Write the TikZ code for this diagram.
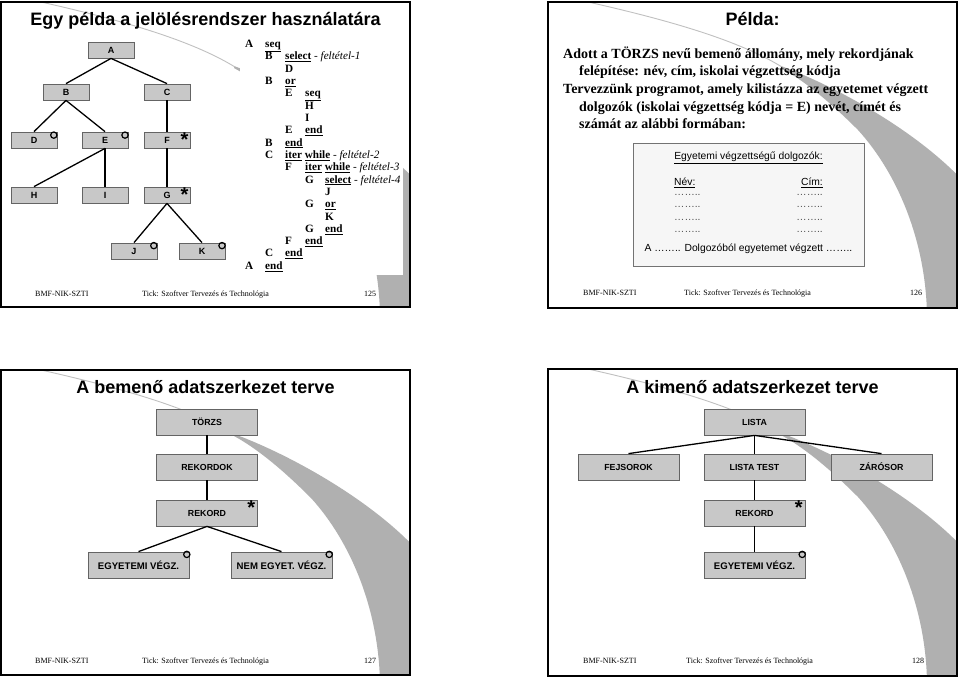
\documentclass[tikz,border=0pt]{standalone}
\usepackage{fontspec}
\usetikzlibrary{calc}
\setmainfont{Liberation Serif}
\setsansfont{Liberation Sans}
\definecolor{swgray}{RGB}{176,176,176}
\definecolor{swline}{RGB}{192,192,192}
\definecolor{boxfill}{RGB}{200,200,200}
\definecolor{boxline}{RGB}{100,100,100}
\definecolor{tblfill}{RGB}{246,246,246}
\definecolor{tblline}{RGB}{115,115,115}
\newcommand\kw[1]{\underline{#1}}
\newcommand\cnd[1]{\textit{\mdseries #1}}
\newcommand\cl[1]{\makebox[20pt][l]{#1}}
\newcommand\myswoosh{%
  \fill[swgray] (233,64) .. controls (290,85) and (370,130) .. (416,180)
    -- (440,180) -- (440,330) -- (379,330) -- (379,314) .. controls (378,240) and (350,172) .. (310,128)
    .. controls (280,98) and (255,78) .. (233,66) -- cycle;
  \draw[swline, line width=0.9pt] (40,0) .. controls (120,18) and (190,38) .. (234,65);
}
\begin{document}
\begin{tikzpicture}[x=1pt,y=-1pt,
  frame/.style={draw=black, line width=1.6pt},
  tbox/.style={draw=boxline, fill=boxfill, line width=0.8pt, minimum width=46pt, minimum height=16pt, inner sep=0pt, font=\sffamily\bfseries\fontsize{9}{10}\selectfont},
  bbox/.style={tbox, minimum width=101pt, minimum height=26pt, font=\sffamily\bfseries\fontsize{8.8}{10}\selectfont},
  lbox/.style={bbox, font=\sffamily\bfseries\fontsize{9.6}{11}\selectfont},
  conn/.style={draw=black, line width=1.3pt},
  ring/.style={circle, draw=black, line width=1.2pt, minimum size=6.3pt, inner sep=0pt},
  astx/.style={anchor=north east, inner sep=0pt, font=\sffamily\bfseries\fontsize{20}{20}\selectfont},
  pc/.style={anchor=base west, inner sep=0pt, font=\bfseries\fontsize{11.2}{12}\selectfont},
  foot/.style={anchor=base west, inner sep=0pt, font=\fontsize{8}{9}\selectfont},
  ttl/.style={anchor=base, inner sep=0pt, font=\sffamily\bfseries\fontsize{18}{20}\selectfont},
  body/.style={anchor=base west, inner sep=0pt, font=\bfseries\fontsize{14}{16}\selectfont},
  tt/.style={inner sep=0pt, font=\sffamily\fontsize{10.3}{12}\selectfont}
]
\fill[white] (0,0) rectangle (960,679);
\useasboundingbox (0,0) rectangle (960,679);

% ---------- swooshes ----------
\begin{scope}\clip (1,2) rectangle (410,307);
  \begin{scope}[shift={(1,2)}]\myswoosh\end{scope}
\end{scope}
\fill[white] (240,30) rectangle (403,275);
\begin{scope}\clip (548,2) rectangle (957,308);
  \begin{scope}[shift={(548,2)}]\myswoosh\end{scope}
\end{scope}
\begin{scope}\clip (1,370) rectangle (410,675);
  \begin{scope}[shift={(1,370)}]\myswoosh\end{scope}
\end{scope}
\begin{scope}\clip (548,369) rectangle (957,676);
  \begin{scope}[shift={(548,369)}]\myswoosh\end{scope}
\end{scope}

% ---------- slide 1 ----------
\node[ttl] (t1) at (205.5,26) {Egy példa a jelölésrendszer használatára};
\node[tbox] (A) at (111,50) {A};
\node[tbox] (B) at (66,92) {B};
\node[tbox] (C) at (167,92) {C};
\node[tbox] (D) at (34,140) {D};
\node[tbox] (E) at (105,140) {E};
\node[tbox] (F) at (167,140) {F};
\node[tbox] (H) at (34,195) {H};
\node[tbox] (I) at (105,195) {I};
\node[tbox] (G) at (167,195) {G};
\node[tbox] (J) at (134,251) {J};
\node[tbox] (K) at (202,251) {K};
\draw[conn] (A.south) -- (B.north);
\draw[conn] (A.south) -- (C.north);
\draw[conn] (B.south) -- (D.north);
\draw[conn] (B.south) -- (E.north);
\draw[conn] (C.south) -- (F.north);
\draw[conn] (E.south) -- (H.north);
\draw[conn] (E.south) -- (I.north);
\draw[conn] (F.south) -- (G.north);
\draw[conn] (G.south) -- (J.north);
\draw[conn] (G.south) -- (K.north);
\node[ring] (rD) at ($(D.north east)+(-3.6,3.5)$) {};
\node[ring] (rE) at ($(E.north east)+(-3.4,3.5)$) {};
\node[ring] (rJ) at ($(J.north east)+(-3.6,3)$) {};
\node[ring] (rK) at ($(K.north east)+(-3.4,3)$) {};
\node[astx] (sF) at ($(F.north east)+(-1.8,1.2)$) {*};
\node[astx] (sG) at ($(G.north east)+(-1.8,1.2)$) {*};

\node[pc] (p1)  at (245,47.5)  {\cl{A}\kw{seq}};
\node[pc] (p2)  at (265,59.8)  {\cl{B}\kw{select} \cnd{- feltétel-1}};
\node[pc] (p3)  at (285,72.1)  {D};
\node[pc] (p4)  at (265,84.5)  {\cl{B}\kw{or}};
\node[pc] (p5)  at (285,96.8)  {\cl{E}\kw{seq}};
\node[pc] (p6)  at (305,109.1) {H};
\node[pc] (p7)  at (305,121.4) {I};
\node[pc] (p8)  at (285,133.7) {\cl{E}\kw{end}};
\node[pc] (p9)  at (265,146.1) {\cl{B}\kw{end}};
\node[pc] (p10) at (265,158.4) {\cl{C}\kw{iter} \kw{while} \cnd{- feltétel-2}};
\node[pc] (p11) at (285,170.7) {\cl{F}\kw{iter} \kw{while} \cnd{- feltétel-3}};
\node[pc] (p12) at (305,183.0) {\cl{G}\kw{select} \cnd{- feltétel-4}};
\node[pc] (p13) at (325,195.3) {J};
\node[pc] (p14) at (305,207.7) {\cl{G}\kw{or}};
\node[pc] (p15) at (325,220.0) {K};
\node[pc] (p16) at (305,232.3) {\cl{G}\kw{end}};
\node[pc] (p17) at (285,244.6) {\cl{F}\kw{end}};
\node[pc] (p18) at (265,256.9) {\cl{C}\kw{end}};
\node[pc] (p19) at (245,269.3) {\cl{A}\kw{end}};

\node[foot] (f1a) at (35,296) {BMF-NIK-SZTI};
\node[foot] (f1b) at (142,296) {Tick: Szoftver Tervezés és Technológia};
\node[foot] (f1c) at (364,296) {125};

% ---------- slide 2 ----------
\node[ttl] (t2) at (752.5,26) {Példa:};
\node[body] (b1) at (563,58.3) {Adott a TÖRZS nevű bemenő állomány, mely rekordjának};
\node[body] (b2) at (579,76) {felépítése: név, cím, iskolai végzettség kódja};
\node[body] (b3) at (563,94) {Tervezzünk programot, amely kilistázza az egyetemet végzett};
\node[body] (b4) at (579,111.7) {dolgozók (iskolai végzettség kódja = E) nevét, címét és};
\node[body] (b5) at (579,129) {számát az alábbi formában:};
\node[draw=tblline, fill=tblfill, line width=0.8pt, minimum width=231pt, minimum height=123pt, inner sep=0pt] (tbl) at (748.5,204.5) {};
\node[tt, anchor=base] (tg1) at (748.5,160) {\underline{Egyetemi végzettségű dolgozók:}};
\node[tt, anchor=base west] (tn) at (674,185.7) {\underline{Név:}};
\node[tt, anchor=base east] (tc) at (823,185.7) {\underline{Cím:}};
\node[tt, anchor=base west, text=black!70] (d1) at (674,195) {……..};
\node[tt, anchor=base west, text=black!70] (d2) at (674,207.7) {……..};
\node[tt, anchor=base west, text=black!70] (d3) at (674,220) {……..};
\node[tt, anchor=base west, text=black!70] (d4) at (674,232) {……..};
\node[tt, anchor=base east, text=black!70] (e1) at (823,195) {……..};
\node[tt, anchor=base east, text=black!70] (e2) at (823,207.7) {……..};
\node[tt, anchor=base east, text=black!70] (e3) at (823,220) {……..};
\node[tt, anchor=base east, text=black!70] (e4) at (823,232) {……..};
\node[tt, anchor=base] (tl) at (748.5,251.7) {A …….. Dolgozóból egyetemet végzett ……..};
\node[foot] (f2a) at (583,295.5) {BMF-NIK-SZTI};
\node[foot] (f2b) at (684,295.5) {Tick: Szoftver Tervezés és Technológia};
\node[foot] (f2c) at (910,295.5) {126};

% ---------- slide 3 ----------
\node[ttl] (t3) at (205.5,393) {A bemenő adatszerkezet terve};
\node[bbox] (torzs) at (207,422) {TÖRZS};
\node[bbox] (reks) at (207,467) {REKORDOK};
\node[bbox] (rek) at (207,513) {REKORD};
\node[lbox] (egy) at (138.5,565) {EGYETEMI VÉGZ.};
\node[lbox] (nem) at (281.5,565) {NEM EGYET. VÉGZ.};
\draw[conn] (torzs.south) -- (reks.north);
\draw[conn] (reks.south) -- (rek.north);
\draw[conn] (rek.south) -- (egy.north);
\draw[conn] (rek.south) -- (nem.north);
\node[astx] (sR) at ($(rek.north east)+(-2.6,1)$) {*};
\node[ring] (rEg) at ($(egy.north east)+(-2.6,2.8)$) {};
\node[ring] (rNe) at ($(nem.north east)+(-3.2,2.8)$) {};
\node[foot] (f3a) at (35,663.3) {BMF-NIK-SZTI};
\node[foot] (f3b) at (142,663.3) {Tick: Szoftver Tervezés és Technológia};
\node[foot] (f3c) at (364,663.3) {127};

% ---------- slide 4 ----------
\node[ttl] (t4) at (752.5,393) {A kimenő adatszerkezet terve};
\node[bbox] (lista) at (754.5,422) {LISTA};
\node[bbox] (fej) at (628.5,467) {FEJSOROK};
\node[bbox] (ltest) at (754.5,467) {LISTA TEST};
\node[bbox] (zar) at (881.5,467) {ZÁRÓSOR};
\node[bbox] (rek2) at (754.5,513) {REKORD};
\node[lbox] (egy2) at (754.5,565) {EGYETEMI VÉGZ.};
\draw[conn] (lista.south) -- (fej.north);
\draw[conn] (lista.south) -- (ltest.north);
\draw[conn] (lista.south) -- (zar.north);
\draw[conn] (ltest.south) -- (rek2.north);
\draw[conn] (rek2.south) -- (egy2.north);
\node[astx] (sR2) at ($(rek2.north east)+(-2.6,1)$) {*};
\node[ring] (rEg2) at ($(egy2.north east)+(-3.2,2.8)$) {};
\node[foot] (f4a) at (583,663.3) {BMF-NIK-SZTI};
\node[foot] (f4b) at (686,663.3) {Tick: Szoftver Tervezés és Technológia};
\node[foot] (f4c) at (912,663.3) {128};

% ---------- frames ----------
\draw[frame] (1,2) rectangle (410,307);
\draw[frame] (548,2) rectangle (957,308);
\draw[frame] (1,370) rectangle (410,675);
\draw[frame] (548,369) rectangle (957,676);
\end{tikzpicture}
\end{document}
